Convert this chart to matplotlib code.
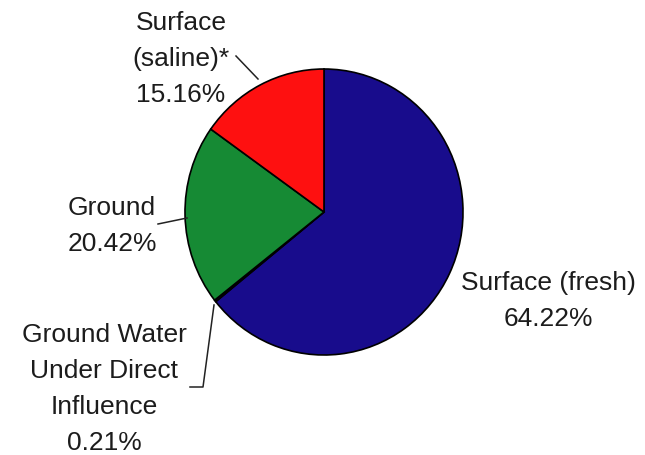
import matplotlib
matplotlib.use("Agg")
import matplotlib.pyplot as plt

# water source shares, clockwise from 12 o'clock
sources = ["Surface (fresh)", "Ground Water\nUnder Direct\nInfluence", "Ground", "Surface\n(saline)*"]
shares = [64.22, 0.21, 20.42, 15.16]
colors = ["#180c8c", "#180c8c", "#168a34", "#fe1010"]

plt.rcParams['font.family'] = ['Liberation Sans', 'DejaVu Sans']

fig = plt.figure(figsize=(6.45, 4.56), dpi=100)
ax = fig.add_axes([0, 0, 1, 1])

wedges, _ = ax.pie(shares, colors=colors, startangle=90, counterclock=False,
                   wedgeprops=dict(edgecolor="black", linewidth=1.2))

# pixel frame: pie centre at (324, 213), radii 139 x 143
cx, cy, rx, ry = 324, 213, 139, 143
ax.set_aspect("auto")
ax.set_xlim(-cx / rx, (645 - cx) / rx)
ax.set_ylim((cy - 456) / ry, cy / ry)
ax.axis("off")


def px(x, y):
    return (x - cx) / rx, (cy - y) / ry


# label block centres (pixels) and leader lines
label_pos = [(548, 301), (104, 389), (112, 226), (181, 59)]
leaders = [None,
           [(190, 388), (203, 388), (214, 306)],
           [(158, 225), (187, 219)],
           [(236, 57), (258, 80)]]

for name, val, pos, lead in zip(sources, shares, label_pos, leaders):
    x, y = px(*pos)
    ax.text(x, y, f"{name}\n{val:.2f}%", ha="center", va="center",
            fontsize=19, color="#1c1c1c", linespacing=1.62)
    if lead:
        xs, ys = zip(*[px(a, b) for a, b in lead])
        ax.plot(xs, ys, color="#222222", lw=1.1)

fig.savefig("out.png", dpi=100)
